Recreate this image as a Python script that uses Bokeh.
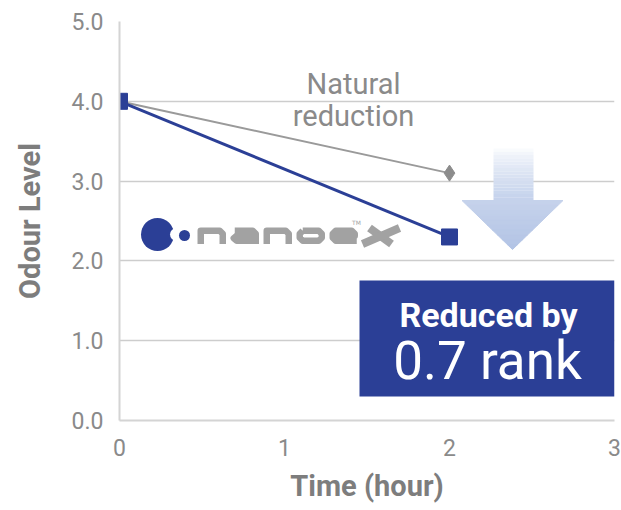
from bokeh.plotting import figure
from bokeh.models import Range1d, FixedTicker, Label, CustomJSTickFormatter
from bokeh.core.properties import value
from bokeh.embed import file_html
from bokeh.resources import INLINE
import numpy as np

# ---- data ----
time_hours = [0, 2]
nanoe_level = [4.0, 2.3]
natural_level = [4.0, 3.1]
x_ticks = [0, 1, 2, 3]
y_ticks = [0, 1, 2, 3, 4, 5]
x_title = "Time (hour)"
y_title = "Odour Level"
natural_label = ["Natural", "reduction"]
box_lines = ["Reduced by", "0.7 rank"]

BLUE = "#2b3f96"
GRAY_TXT = "#8a8a8a"
LOGO_GRAY = "#a2a2a2"

W, H = 621, 510
FL, FR, FT, FB = 119, 614, 21, 420   # frame edges (pixels)

p = figure(width=W, height=H, x_range=Range1d(0, 3), y_range=Range1d(0, 5),
           output_backend="svg", toolbar_location=None,
           min_border_left=FL, min_border_right=W - FR, min_border_top=FT, min_border_bottom=H - FB)
p.outline_line_color = None
p.background_fill_color = "white"
p.border_fill_color = "white"
p.xgrid.visible = False
p.ygrid.grid_line_color = "#cdcdcd"
p.ygrid.grid_line_width = 1.5
p.ygrid.ticker = FixedTicker(ticks=y_ticks)

for ax in (p.xaxis[0], p.yaxis[0]):
    ax.axis_line_color = "#d4d4d4"
    ax.axis_line_width = 2
    ax.major_tick_line_color = None
    ax.minor_tick_line_color = None
    ax.major_tick_out = 0
    ax.major_tick_in = 0
    ax.major_label_text_font = "Roboto"
    ax.major_label_text_font_size = "23px"
    ax.major_label_text_color = GRAY_TXT
    ax.axis_label_text_font = "Roboto"
    ax.axis_label_text_font_style = "bold"
    ax.axis_label_text_font_size = "29px"
    ax.axis_label_text_color = "#7d7d7d"

p.xaxis.ticker = FixedTicker(ticks=x_ticks)
p.yaxis.ticker = FixedTicker(ticks=y_ticks)
p.yaxis.formatter = CustomJSTickFormatter(code="return tick.toFixed(1);")
p.xaxis.major_label_standoff = 18
p.yaxis.major_label_standoff = 16
p.xaxis.axis_label = x_title
p.yaxis.axis_label = y_title
p.xaxis.axis_label_standoff = 10
p.yaxis.axis_label_standoff = 22

# pixel -> data helpers for decorations
def dx(px):
    return (px - FL) / ((FR - FL) / 3)

def dy(py):
    return (FB - py) / ((FB - FT) / 5)

# ---- arrow (gradient) ----
n = 16
edges = np.linspace(148, 200, n + 1)
c0 = np.array([255, 255, 255]); c1 = np.array([196, 210, 236])
cols = []
for i in range(n):
    t = ((i + 0.5) / n) ** 0.7
    c = (c0 + (c1 - c0) * t).astype(int)
    cols.append("#%02x%02x%02x" % tuple(c))
p.quad(left=[dx(493)] * n, right=[dx(533)] * n,
       top=[dy(e) for e in edges[:-1]], bottom=[dy(e) for e in edges[1:]],
       fill_color=cols, line_color=None)
m = 10
hedges = np.linspace(200, 249, m + 1)
h0 = np.array([198, 211, 236]); h1 = np.array([178, 196, 229])
xs, ys, hc = [], [], []
def half(py):
    return (249 - py) / 49 * 50.5
for i in range(m):
    a, b = hedges[i], hedges[i + 1]
    xs.append([dx(512 - half(a)), dx(512 + half(a)), dx(512 + half(b)), dx(512 - half(b))])
    ys.append([dy(a), dy(a), dy(b), dy(b)])
    c = (h0 + (h1 - h0) * (i + 0.5) / m).astype(int)
    hc.append("#%02x%02x%02x" % tuple(c))
p.patches(xs, ys, fill_color=hc, line_color=hc, line_width=1)

# ---- series ----
p.line(time_hours, natural_level, line_color="#9a9a9a", line_width=2)
p.scatter([time_hours[-1]], [natural_level[-1]], marker="diamond", size=16,
          fill_color="#8c8c8c", line_color="#8c8c8c")
p.line(time_hours, nanoe_level, line_color=BLUE, line_width=3)
p.scatter(time_hours, nanoe_level, marker="square", size=16, fill_color=BLUE, line_color=BLUE)

# ---- natural reduction label ----
for i, t in enumerate(natural_label):
    p.add_layout(Label(x=dx(353), y=dy(83 + 32 * i), text=t, text_align="center",
                       text_baseline="middle", text_font="Roboto",
                       text_font_size="29px", text_color=GRAY_TXT))

# ---- logo (drawn shapes) ----
p.scatter([dx(157)], [dy(234)], marker="circle", size=33, fill_color=BLUE, line_color=None)
p.scatter([dx(176)], [dy(234)], marker="circle", size=13, fill_color="white", line_color=None)
p.scatter([dx(184)], [dy(235)], marker="circle", size=11, fill_color=BLUE, line_color=None)

SW = 6.5          # stroke width of logo letters
TOP = 227 + SW / 2
def glyph_path(kind, x0):
    # local pixel path (stroke centreline) in a box 22 wide, 10 tall
    L, R, T, B = 0, 22, 0, 10
    M = 5
    if kind == "n":
        pts = [[(L, B + SW / 2), (L, T), (R - 3, T), (R, T + 3), (R, B + SW / 2)]]
    elif kind == "a":
        pts = [[(L + 1, T), (R - 3, T), (R, T + 3), (R, B + SW / 2)],
               [(R, M), (L + 3, M), (L, M + 2.5), (L + 3, B), (R, B)]]
    elif kind == "o":
        pts = [[(L + 3, T), (R - 3, T), (R, T + 3), (R, B - 3), (R - 3, B), (L + 3, B),
                (L, B - 3), (L, T + 3), (L + 3, T)]]
    elif kind == "e":
        pts = [[(L, M), (R, M), (R, T + 3), (R - 3, T), (L + 3, T), (L, T + 3),
                (L, B - 3), (L + 3, B), (R + 2, B)]]
    else:
        pts = []
    out = []
    for seg in pts:
        out.append(([dx(x0 + SW / 2 + px) for px, _ in seg], [dy(TOP + py) for _, py in seg]))
    return out

logo_letters = list("nanoe")
logo_left = [197, 230, 263, 296, 329]
for k, x0 in zip(logo_letters, logo_left):
    for xs_, ys_ in glyph_path(k, x0):
        p.line(xs_, ys_, line_color=LOGO_GRAY, line_width=SW, line_join="round", line_cap="butt")
# italic X
p.line([dx(369), dx(391)], [dy(227.5), dy(243.5)], line_color=LOGO_GRAY, line_width=8, line_cap="butt")
p.line([dx(362), dx(399)], [dy(243.5), dy(227.5)], line_color=LOGO_GRAY, line_width=8, line_cap="butt")
p.text(x=[dx(356)], y=[dy(222)], text=["TM"], text_font=value("DejaVu Sans"),
       text_font_size="6px", text_color=LOGO_GRAY, text_align="center", text_baseline="middle")

# ---- box ----
p.quad(left=[dx(359)], right=[3.0], top=[dy(280)], bottom=[dy(396)],
       fill_color=BLUE, line_color=None)
p.add_layout(Label(x=dx(488), y=dy(314), text=box_lines[0], text_align="center",
                   text_baseline="middle", text_font="Roboto", text_font_style="bold",
                   text_font_size="34px", text_color="white"))
p.add_layout(Label(x=dx(487), y=dy(360), text=box_lines[1], text_align="center",
                   text_baseline="middle", text_font="Roboto",
                   text_font_size="53px", text_color="white"))

open("out.html", "w").write(file_html(p, INLINE))
